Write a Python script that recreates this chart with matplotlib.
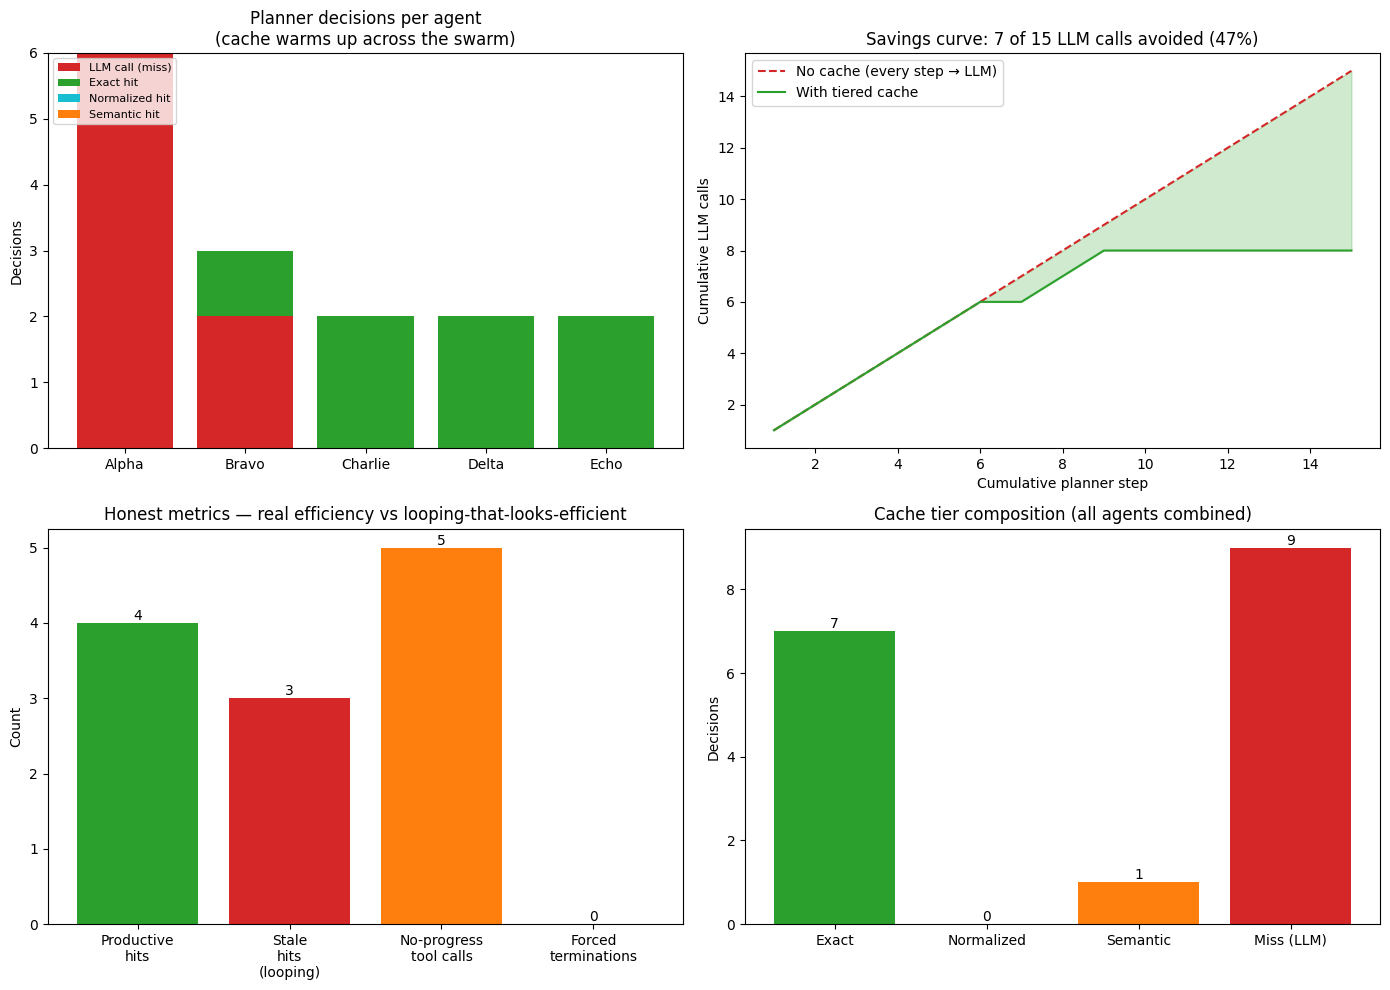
import matplotlib
matplotlib.use("Agg")
import matplotlib.pyplot as plt
import numpy as np

# Data
agents = ["Alpha", "Bravo", "Charlie", "Delta", "Echo"]
miss_counts = [6, 2, 0, 0, 0]
exact_counts = [0, 1, 2, 2, 2]
normalized_counts = [0, 0, 0, 0, 0]
semantic_counts = [0, 0, 0, 0, 0]

steps = list(range(1, 16))
no_cache_calls = list(range(1, 16))
tiered_calls = [1, 2, 3, 4, 5, 6, 6, 7, 8, 8, 8, 8, 8, 8, 8]

metric_labels = ["Productive\nhits", "Stale\nhits\n(looping)", "No-progress\ntool calls", "Forced\nterminations"]
metric_values = [4, 3, 5, 0]

tier_labels = ["Exact", "Normalized", "Semantic", "Miss (LLM)"]
tier_values = [7, 0, 1, 9]

fig, axes = plt.subplots(2, 2, figsize=(13.9, 9.9), dpi=100)

# Planner decisions per agent (stacked)
ax = axes[0, 0]
x = np.arange(len(agents))
bottom = np.zeros(len(agents))
for vals, lab, col in [(miss_counts, "LLM call (miss)", "tab:red"),
                       (exact_counts, "Exact hit", "tab:green"),
                       (normalized_counts, "Normalized hit", "tab:cyan"),
                       (semantic_counts, "Semantic hit", "tab:orange")]:
    ax.bar(x, vals, bottom=bottom, label=lab, color=col)
    bottom += np.array(vals)
ax.set_xticks(x)
ax.set_xticklabels(agents)
ax.set_ylim(0, 6)
ax.set_ylabel("Decisions")
ax.set_title("Planner decisions per agent\n(cache warms up across the swarm)")
ax.legend(fontsize=8, loc="upper left")

# Savings curve
ax = axes[0, 1]
ax.plot(steps, no_cache_calls, "--", color="tab:red", label="No cache (every step \u2192 LLM)")
ax.plot(steps, tiered_calls, color="tab:green", label="With tiered cache")
ax.fill_between(steps, tiered_calls, no_cache_calls, color="tab:green", alpha=0.22)
ax.set_xlabel("Cumulative planner step")
ax.set_ylabel("Cumulative LLM calls")
ax.set_title("Savings curve: 7 of 15 LLM calls avoided (47%)")
ax.legend(loc="upper left")

# Honest metrics
ax = axes[1, 0]
bars = ax.bar(metric_labels, metric_values,
              color=["tab:green", "tab:red", "tab:orange", "tab:gray"])
ax.bar_label(bars)
ax.set_ylabel("Count")
ax.set_title("Honest metrics \u2014 real efficiency vs looping-that-looks-efficient")

# Cache tier composition
ax = axes[1, 1]
bars = ax.bar(tier_labels, tier_values,
              color=["tab:green", "tab:cyan", "tab:orange", "tab:red"])
ax.bar_label(bars)
ax.set_ylabel("Decisions")
ax.set_title("Cache tier composition (all agents combined)")

plt.tight_layout(pad=0.7, h_pad=1.08, w_pad=1.08)
plt.savefig("out.png")
plt.close()
